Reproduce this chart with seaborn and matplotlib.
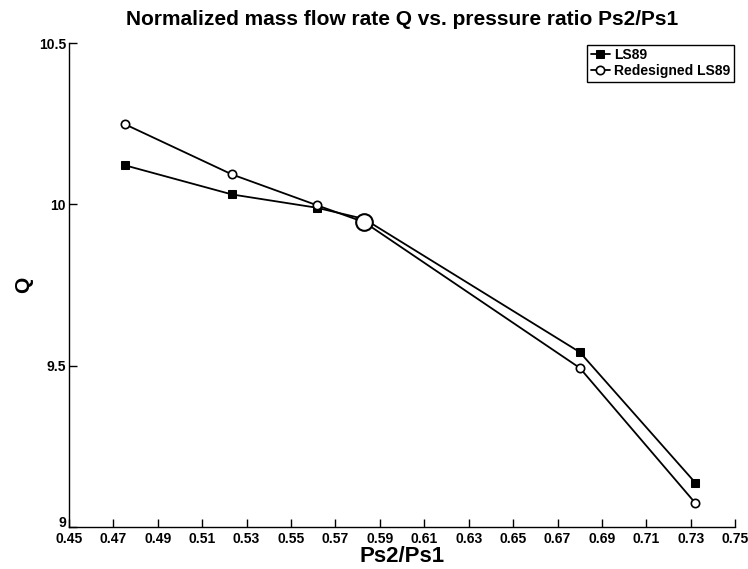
import matplotlib
matplotlib.use("Agg")
import matplotlib.pyplot as plt
import matplotlib.transforms as mtransforms
import seaborn as sns
import pandas as pd
from matplotlib.ticker import FormatStrFormatter

# Pressure ratio Ps2/Ps1 and normalized mass flow rate Q
pressure_ratio = [0.4755, 0.5235, 0.5615, 0.5830, 0.6800, 0.7320]
q_ls89 = [10.121, 10.031, 9.990, 9.955, 9.542, 9.137]
q_redesigned = [10.248, 10.093, 9.998, 9.945, 9.493, 9.074]
design_index = 3

series_names = ["LS89", "Redesigned LS89"]
x_ticks = [0.45, 0.47, 0.49, 0.51, 0.53, 0.55, 0.57, 0.59, 0.61, 0.63,
           0.65, 0.67, 0.69, 0.71, 0.73, 0.75]
y_ticks = [9, 9.5, 10, 10.5]

sns.set_theme(style="ticks")
plt.rcParams["font.family"] = ["Liberation Sans", "DejaVu Sans"]
plt.rcParams["font.weight"] = "bold"
plt.rcParams["text.color"] = "black"
plt.rcParams["axes.labelcolor"] = "black"

df_ls89 = pd.DataFrame({"ratio": pressure_ratio, "Q": q_ls89})
df_red = pd.DataFrame({"ratio": pressure_ratio, "Q": q_redesigned})

fig = plt.figure(figsize=(7.48, 5.69), dpi=100)
ax = fig.add_axes([0.092, 0.074, 0.891, 0.850])

sns.lineplot(data=df_ls89, x="ratio", y="Q", ax=ax, sort=False, color="black",
             marker="s", markersize=5.5, markerfacecolor="black",
             markeredgecolor="black", linewidth=1.3, label=series_names[0])
sns.lineplot(data=df_red, x="ratio", y="Q", ax=ax, sort=False, color="black",
             marker="o", markersize=6, markerfacecolor="white",
             markeredgecolor="black", markeredgewidth=1.2, linewidth=1.3,
             label=series_names[1])

# Highlighted design point of the redesigned cascade
ax.plot(pressure_ratio[design_index], q_redesigned[design_index], marker="o",
        markersize=12, markerfacecolor="white", markeredgecolor="black",
        markeredgewidth=1.5, linestyle="none")

ax.set_xlim(0.45, 0.75)
ax.set_ylim(9, 10.5)
ax.set_xticks(x_ticks)
ax.set_yticks(y_ticks)
ax.xaxis.set_major_formatter(FormatStrFormatter("%.2f"))
ax.yaxis.set_major_formatter(FormatStrFormatter("%g"))
ax.tick_params(direction="in", length=6, width=1, labelsize=10, colors="black")
ax.tick_params(axis="x", pad=4)
ax.tick_params(axis="y", pad=2)
for lab in ax.get_xticklabels() + ax.get_yticklabels():
    lab.set_fontweight("bold")

# lift the lowest y label a little so it sits clear of the x labels
fig.canvas.draw()
lowest = ax.get_yticklabels()[0]
lowest.set_transform(lowest.get_transform() +
                     mtransforms.ScaledTranslation(0, 4 / 72, fig.dpi_scale_trans))

sns.despine(ax=ax)
for sp in ("left", "bottom"):
    ax.spines[sp].set_color("black")
    ax.spines[sp].set_linewidth(1.0)

ax.set_title("Normalized mass flow rate Q vs. pressure ratio Ps2/Ps1",
             fontsize=15, fontweight="bold", pad=13)
ax.set_xlabel("Ps2/Ps1", fontsize=16, fontweight="bold", labelpad=0)
ax.set_ylabel("Q", fontsize=15, fontweight="bold", labelpad=4)

leg = ax.legend(loc="upper right", fontsize=10, frameon=True, fancybox=False,
                edgecolor="black", framealpha=1, handlelength=1.4,
                handletextpad=0.3, borderpad=0.25, labelspacing=0.15,
                borderaxespad=0.1)
leg.get_frame().set_linewidth(1.0)
for t in leg.get_texts():
    t.set_fontweight("bold")

fig.savefig("out.png", dpi=100)
